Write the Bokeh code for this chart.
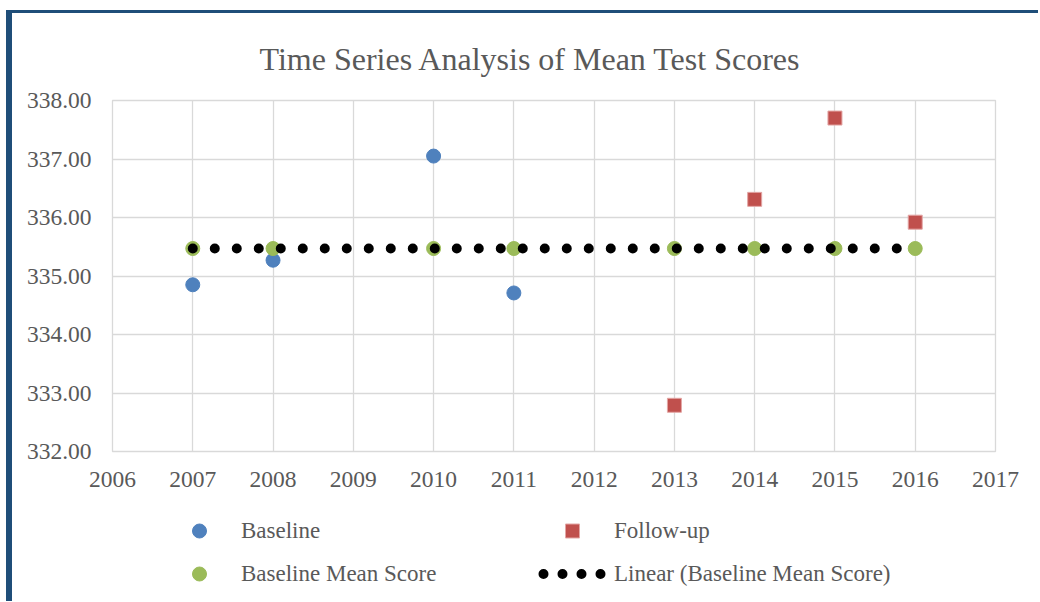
import numpy as np
from bokeh.plotting import figure
from bokeh.layouts import column
from bokeh.models import (Legend, LegendItem, SingleIntervalTicker, NumeralTickFormatter,
                          Range1d)
from bokeh.embed import file_html
from bokeh.resources import INLINE

# ---- data ----
base_years = [2007, 2008, 2010, 2011]
base_scores = [334.85, 335.27, 337.05, 334.71]
follow_years = [2013, 2014, 2015, 2016]
follow_scores = [332.79, 336.31, 337.70, 335.92]
mean_years = [2007, 2008, 2010, 2011, 2013, 2014, 2015, 2016]
mean_scores = [335.47, 335.47, 335.47, 335.47, 335.47, 335.47, 335.47, 335.47]
x_ticks_start, x_ticks_end = 2006, 2017
y_ticks_start, y_ticks_end = 332, 338

title_text = "Time Series Analysis of Mean Test Scores"
labels = ["Baseline", "Follow-up", "Baseline Mean Score", "Linear (Baseline Mean Score)"]

# linear trend of the Baseline Mean Score series
coef = np.polyfit(mean_years, mean_scores, 1)
trend_x = [min(mean_years), max(mean_years)]
trend_y = list(np.polyval(coef, trend_x))

FONT = "Liberation Serif"
TXT = "#595959"
GRID = "#D9D9D9"
C_BASE, C_FOLLOW, C_MEAN = "#4F81BD", "#C0504D", "#9BBB59"
SQ_EDGE = "#E3A6A5"

p = figure(width=1026, height=495,
           x_range=Range1d(x_ticks_start, x_ticks_end),
           y_range=Range1d(y_ticks_start, y_ticks_end),
           output_backend="svg", toolbar_location=None,
           min_border_left=100, min_border_right=43,
           min_border_top=87, min_border_bottom=57)

p.title.text = title_text
p.title.text_font = FONT
p.title.text_font_size = "32px"
p.title.text_font_style = "normal"
p.title.text_color = TXT
p.title.align = "left"
p.title.offset = 147
p.title.standoff = 48

for ax in (p.xaxis[0], p.yaxis[0]):
    ax.axis_line_color = None
    ax.major_tick_line_color = None
    ax.minor_tick_line_color = None
    ax.major_tick_in = 0
    ax.major_tick_out = 0
    ax.minor_tick_in = 0
    ax.minor_tick_out = 0
    ax.major_label_text_font = FONT
    ax.major_label_text_font_size = "23.5px"
    ax.major_label_text_color = TXT

p.xaxis.ticker = SingleIntervalTicker(interval=1)
p.yaxis.ticker = SingleIntervalTicker(interval=1)
p.xaxis.formatter = NumeralTickFormatter(format="0")
p.yaxis.formatter = NumeralTickFormatter(format="0.00")
p.xaxis.major_label_standoff = 20
p.yaxis.major_label_standoff = 21

p.grid.grid_line_color = GRID
p.grid.grid_line_width = 1.3
p.outline_line_color = GRID
p.outline_line_width = 1.3

p.scatter(base_years, base_scores, marker="circle", size=14,
          fill_color=C_BASE, line_color=C_BASE)
p.scatter(follow_years, follow_scores, marker="square", size=14,
          fill_color=C_FOLLOW, line_color=SQ_EDGE, line_width=1)
p.scatter(mean_years, mean_scores, marker="circle", size=14,
          fill_color=C_MEAN, line_color=C_MEAN)
p.line(trend_x, trend_y, line_color="black", line_width=10,
       line_dash="0 22", line_cap="round")

# ---- legend strip below the chart (its own ranges keep the data out of view) ----
q = figure(width=1026, height=93, title=None,
           x_range=Range1d(0, 1), y_range=Range1d(0, 1),
           x_axis_type=None, y_axis_type=None,
           output_backend="svg", toolbar_location=None,
           min_border=0, min_border_left=0, min_border_right=0,
           min_border_top=0, min_border_bottom=0)
q.outline_line_color = None
q.grid.visible = False

g_base = q.scatter(base_years, base_scores, marker="circle", size=14,
                   fill_color=C_BASE, line_color=C_BASE)
g_follow = q.scatter(follow_years, follow_scores, marker="square", size=14,
                     fill_color=C_FOLLOW, line_color=SQ_EDGE, line_width=1)
g_mean = q.scatter(mean_years, mean_scores, marker="circle", size=14,
                   fill_color=C_MEAN, line_color=C_MEAN)
g_trend = q.line(trend_x, trend_y, line_color="black", line_width=10,
                 line_dash="0 19", line_dash_offset=14, line_cap="round")

legend = Legend(items=[
    LegendItem(label=labels[0], renderers=[g_base]),
    LegendItem(label=labels[2], renderers=[g_mean]),
    LegendItem(label=labels[1], renderers=[g_follow]),
    LegendItem(label=labels[3], renderers=[g_trend]),
], ncols=2, location=(53, 10), glyph_width=68, glyph_height=35,
    label_standoff=8, label_width=289, spacing=8, padding=0, margin=0,
    border_line_color=None, background_fill_color=None,
    label_text_font=FONT, label_text_font_size="23px", label_text_color=TXT)
q.add_layout(legend, "center")

layout = column(p, q, spacing=0)
layout.styles = {"border-left": "6px solid #1F4E79", "border-top": "3px solid #1F4E79",
                 "margin-left": "6px", "margin-top": "10px"}

open("out.html", "w").write(file_html(layout, INLINE))
